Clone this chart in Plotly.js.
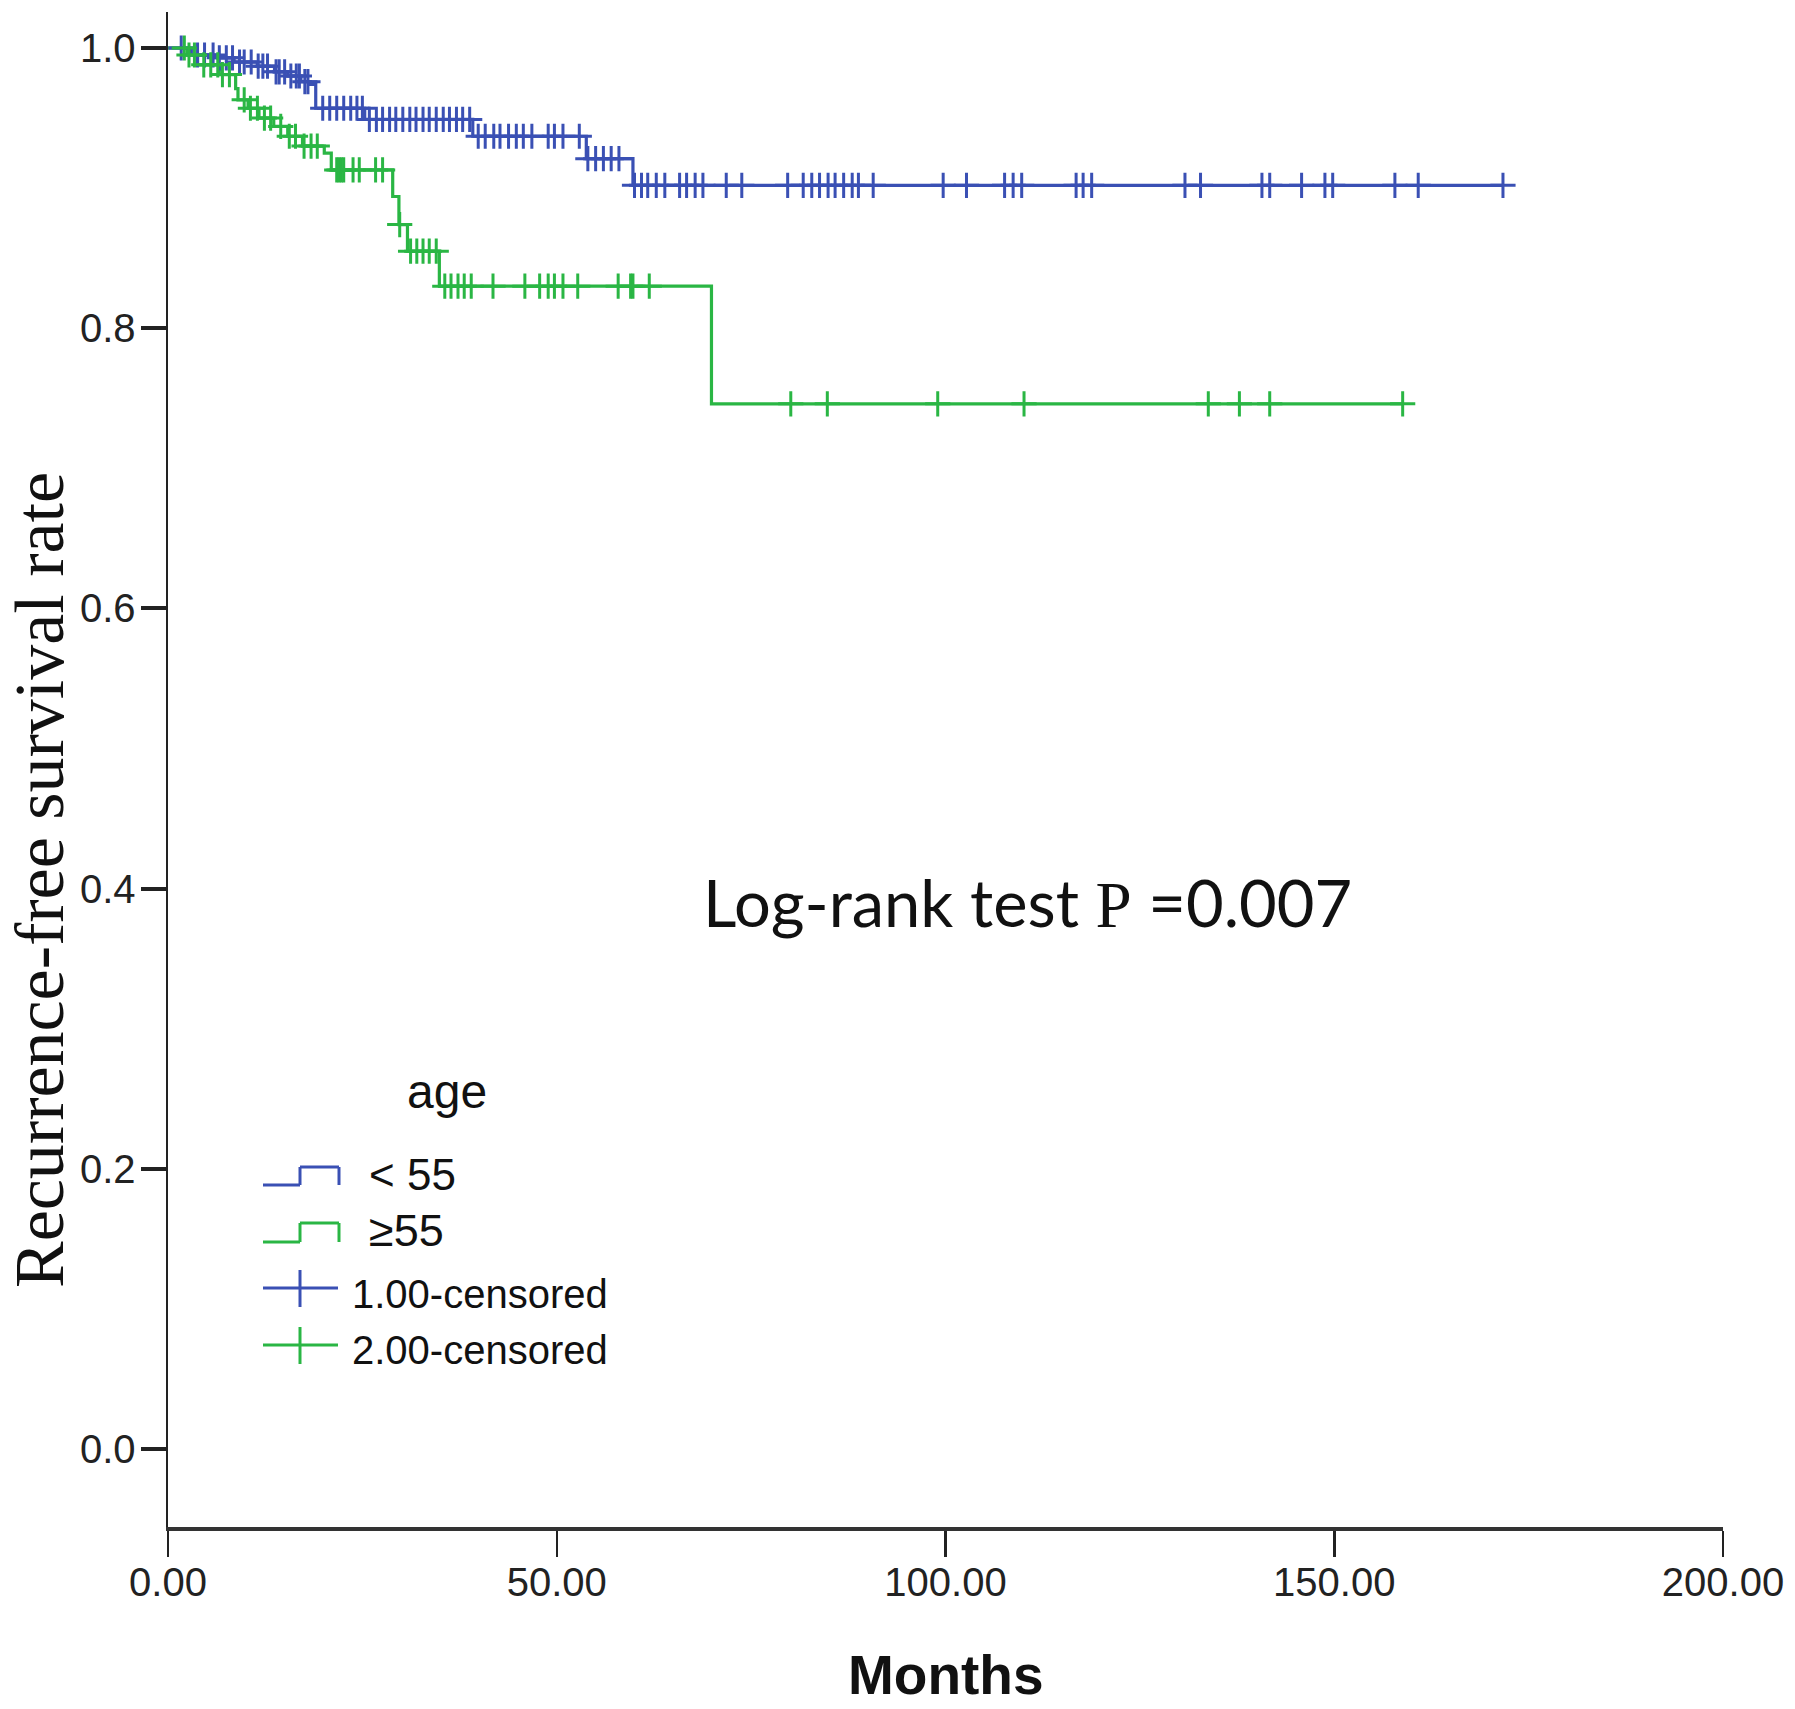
<!DOCTYPE html>
<html>
<head>
<meta charset="utf-8">
<script src="https://cdn.plot.ly/plotly-3.0.1.min.js"></script>
<style>html,body{margin:0;padding:0;background:#fff;}#chart{width:1795px;height:1709px;}</style>
</head>
<body>
<div id="chart"></div>
<script>
// ---- data (months, survival) ----
const blueTimes = [0, 3.0, 6.4, 8.5, 11.5, 13.7, 15.4, 17.1, 18.3, 19.0, 25.3, 39.2, 53.8, 59.8];
const blueSurv  = [1.0, 0.995, 0.993, 0.990, 0.987, 0.983, 0.980, 0.976, 0.974, 0.957, 0.949, 0.937, 0.921, 0.902];
const blueCensored = [1.7, 3.8, 4.7, 5.8, 6.6, 7.5, 8.3, 9.2, 9.8, 10.7, 11.6, 12.2, 12.8, 13.9, 14.3, 15.0, 15.8, 16.5, 16.9, 17.6, 18.0,
  19.9, 20.8, 21.7, 22.6, 23.5, 24.3, 25.0,
  25.9, 26.8, 27.6, 28.5, 29.3, 30.2, 31.1, 31.9, 32.8, 33.6, 34.5, 35.4, 36.2, 37.1, 37.9, 38.8,
  39.9, 40.8, 41.9, 42.7, 43.8, 44.8, 45.7, 46.8, 48.9, 49.7, 50.8, 52.9,
  54.0, 55.0, 56.0, 57.0, 58.0,
  60.0, 60.9, 61.7, 62.8, 63.9, 65.8, 66.7, 67.8, 68.8, 71.8, 73.8, 79.7, 81.7, 82.8, 83.8, 84.9, 85.8, 86.9, 88.0, 88.8, 90.7,
  99.7, 102.7, 107.6, 108.7, 109.8, 116.8, 117.7, 118.8, 130.8, 132.8, 140.7, 141.7, 145.8, 148.8, 149.8, 157.8, 160.8, 171.7];

const greenTimes = [0, 2.5, 3.8, 6.6, 8.7, 9.0, 10.3, 11.7, 13.6, 15.4, 17.3, 20.1, 21.0, 28.9, 29.7, 30.8, 34.9, 69.9];
const greenSurv  = [1.0, 0.995, 0.988, 0.981, 0.971, 0.963, 0.957, 0.950, 0.944, 0.937, 0.930, 0.925, 0.913, 0.894, 0.874, 0.855, 0.830, 0.746];
const greenCensored = [2.1, 2.7, 3.4, 4.6, 5.5, 6.4, 7.0, 7.9, 9.8, 10.6, 11.5, 12.4, 13.2, 14.5, 15.6, 16.4, 17.5, 18.4, 19.2,
  21.7, 22.0, 22.3, 22.6, 23.8, 24.6, 26.7, 27.6, 29.8, 31.2, 32.0, 32.8, 33.6, 34.5,
  35.6, 36.4, 37.3, 38.1, 39.0, 41.8, 45.9, 47.8, 48.9, 49.7, 50.8, 52.7, 57.9, 59.5, 59.8, 61.9,
  80.1, 84.8, 99.0, 110.1, 133.8, 137.8, 141.7, 158.8];

const xTicks = [0, 50, 100, 150, 200];
const yTicks = [0, 0.2, 0.4, 0.6, 0.8, 1.0];
const groupLabels = ['< 55', '\u226555'];
const censorLabels = ['1.00-censored', '2.00-censored'];
const legendTitle = 'age';
const pText = 'Log-rank test <span style="font-family:\'Liberation Serif\'">P</span> =0.007';

// ---- styles ----
const BLUE = 'rgb(58,80,180)';
const GREEN = 'rgb(42,182,68)';

function survAt(times, surv, t) {
  let s = surv[0];
  for (let i = 0; i < times.length; i++) if (times[i] <= t) s = surv[i];
  return s;
}
function curve(times, surv, censored, color) {
  const last = censored[censored.length - 1];
  return {
    x: times.concat([last]), y: surv.concat([surv[surv.length - 1]]),
    mode: 'lines', line: {shape: 'hv', color: color, width: 3.2}, showlegend: false, hoverinfo: 'skip'
  };
}
function marks(times, surv, censored, color) {
  return {
    x: censored, y: censored.map(t => survAt(times, surv, t)),
    mode: 'markers', marker: {symbol: 'cross-thin', size: 18, color: color, line: {color: color, width: 3}},
    showlegend: false, hoverinfo: 'skip'
  };
}

const traces = [
  curve(blueTimes, blueSurv, blueCensored, BLUE),
  curve(greenTimes, greenSurv, greenCensored, GREEN),
  marks(blueTimes, blueSurv, blueCensored, BLUE),
  marks(greenTimes, greenSurv, greenCensored, GREEN)
];

// plot area in pixels (for the hand-drawn legend)
const L = 168, T = 12, B = 182, W = 1795 - 168 - 72, H = 1709 - 12 - B;
const px = v => (v - L) / W;
const py = v => (T + H - v) / H;

function seg(x0, y0, x1, y1, color) {
  return {type: 'line', xref: 'paper', yref: 'paper', x0: px(x0), y0: py(y0), x1: px(x1), y1: py(y1),
          line: {color: color, width: 3}};
}
const shapes = [
  seg(263, 1185, 300, 1185, BLUE), seg(300, 1185, 300, 1167, BLUE), seg(300, 1167, 339, 1167, BLUE), seg(339, 1167, 339, 1185, BLUE),
  seg(263, 1242, 300, 1242, GREEN), seg(300, 1242, 300, 1223, GREEN), seg(300, 1223, 339, 1223, GREEN), seg(339, 1223, 339, 1242, GREEN),
  seg(263, 1288, 338, 1288, BLUE), seg(300, 1270, 300, 1307, BLUE),
  seg(263, 1345, 338, 1345, GREEN), seg(300, 1327, 300, 1364, GREEN)
];

function txt(text, x, y, size, opts) {
  return Object.assign({xref: 'paper', yref: 'paper', x: px(x), y: py(y), text: text, showarrow: false,
    xanchor: 'left', yanchor: 'middle', font: {family: 'Liberation Sans, Arial, sans-serif', size: size, color: '#111'}}, opts || {});
}
const annotations = [
  txt(pText, 701, 902, 65, {font: {family: 'Lato, sans-serif', size: 65, color: '#111'}}),
  txt(legendTitle, 447, 1091, 48, {xanchor: 'center'}),
  txt(groupLabels[0], 367, 1174, 44),
  txt(groupLabels[1], 367, 1230, 45),
  txt(censorLabels[0], 350, 1294, 40),
  txt(censorLabels[1], 350, 1350, 40),
  txt('Recurrence-free survival rate', 40, 880, 70, {xanchor: 'center', textangle: -90,
      font: {family: 'Liberation Serif, Times New Roman, serif', size: 70, color: '#111'}}),
  txt('<b>Months</b>', 946, 1675, 55, {xanchor: 'center', font: {family: 'Liberation Sans, Arial, sans-serif', size: 55, color: '#111'}})
];

const layout = {
  width: 1795, height: 1709,
  margin: {l: L, r: 72, t: T, b: B},
  paper_bgcolor: '#fff', plot_bgcolor: '#fff',
  showlegend: false,
  xaxis: {range: [0, 200], tickvals: xTicks, tickformat: '.2f', ticks: 'outside', ticklen: 26, tickwidth: 2.5,
          tickcolor: '#222', showline: true, linewidth: 4, linecolor: '#333', showgrid: false, zeroline: false,
          ticklabelstandoff: -9,
          tickfont: {family: 'Liberation Sans, Arial, sans-serif', size: 40, color: '#222'}, fixedrange: true},
  yaxis: {range: [-0.0557, 1.0257], tickvals: yTicks, tickformat: '.1f', ticks: 'outside', ticklen: 25, tickwidth: 4,
          tickcolor: '#222', showline: true, linewidth: 2.5, linecolor: '#222', showgrid: false, zeroline: false,
          ticklabelstandoff: -3,
          tickfont: {family: 'Liberation Sans, Arial, sans-serif', size: 40, color: '#222'}, fixedrange: true},
  shapes: shapes,
  annotations: annotations
};

Plotly.newPlot('chart', traces, layout, {displayModeBar: false, staticPlot: true});
</script>
</body>
</html>
